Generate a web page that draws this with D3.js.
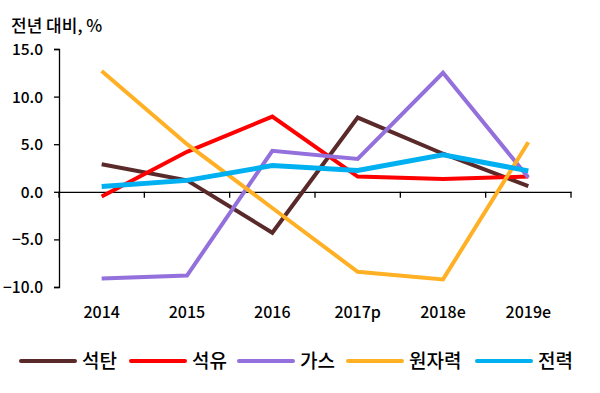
<!DOCTYPE html>
<html>
<head>
<meta charset="utf-8">
<script src="https://cdn.jsdelivr.net/npm/d3@7"></script>
<style>
  body { margin: 0; background: #fff; }
  svg { display: block; }
  .eje text { font-family: "Noto Sans CJK KR", sans-serif; font-size: 15.5px; font-weight: 500; fill: #000; }
  .eje path, .eje line { stroke: #000; stroke-width: 1.3px; }
  .kr { font-family: "Noto Sans CJK KR", sans-serif; font-weight: 500; fill: #000; }
</style>
</head>
<body>
<svg id="chart"></svg>
<script>
var anios = ["2014", "2015", "2016", "2017p", "2018e", "2019e"];
var seccion_nombres = ["석탄", "석유", "가스", "원자력", "전력"];
var carbon   = [2.9, 1.2, -4.3, 7.8, 4.0, 0.6];
var petroleo = [-0.5, 4.2, 7.9, 1.6, 1.35, 1.6];
var gas      = [-9.1, -8.8, 4.3, 3.45, 12.5, 1.5];
var nuclear  = [12.7, 5.0, -1.7, -8.4, -9.2, 5.2];
var electric = [0.55, 1.2, 2.75, 2.25, 3.9, 2.2];
var ticksY = [-10, -5, 0, 5, 10, 15];
var colores = ["#5a2a2a", "#ff0000", "#9370db", "#ffb024", "#00b0f0"];

var series = [carbon, petroleo, gas, nuclear, electric].map(function(v, i) {
    return { nombre: seccion_nombres[i], valores: v, color: colores[i], ancho: i == 4 ? 5 : 4 };
});

var config = { width: 600, height: 393, left: 59, right: 571, top: 49, bottom: 287 };

var svg = d3.select("#chart")
    .attr("width", config.width)
    .attr("height", config.height);

var x = d3.scaleBand()
    .range([config.left, config.right])
    .domain(anios);
var y = d3.scaleLinear()
    .range([config.bottom, config.top])
    .domain([-10, 15]);

// titulo
svg.append("text")
    .attr("class", "kr")
    .attr("x", 11)
    .attr("y", 32)
    .style("font-size", "17px")
    .text("전년 대비, %");

// eje Y
svg.append("g")
    .attr("class", "eje")
    .attr("transform", "translate(" + config.left + ",0)")
    .call(d3.axisLeft(y).tickValues(ticksY).tickFormat(d3.format(".1f")).tickSizeOuter(0).tickSize(5).tickPadding(11))
  .selectAll("text")
    .attr("dy", "0.36em");

// eje X en cero
var ejeX = svg.append("g")
    .attr("class", "eje")
    .attr("transform", "translate(0," + y(0) + ")")
    .call(d3.axisBottom(x).tickSize(6).tickSizeOuter(0).tickFormat(""));
ejeX.selectAll(".tick").remove();
ejeX.selectAll(".borde")
    .data(anios.concat(["fin"]))
    .enter().append("line")
    .attr("x1", function(d, i) { return config.left + i * x.step(); })
    .attr("x2", function(d, i) { return config.left + i * x.step(); })
    .attr("y1", 0)
    .attr("y2", 6)
    .attr("stroke", "#000")
    .attr("stroke-width", 1.3);

svg.selectAll(".etq")
    .data(anios)
    .enter().append("text")
    .attr("class", "kr")
    .attr("x", function(d) { return x(d) + x.bandwidth() / 2; })
    .attr("y", 318)
    .attr("text-anchor", "middle")
    .style("font-size", "16px")
    .text(function(d) { return d; });

// lineas
var linea = d3.line()
    .x(function(d, i) { return x(anios[i]) + x.bandwidth() / 2; })
    .y(function(d) { return y(d); });

svg.selectAll(".serie")
    .data(series)
    .enter().append("path")
    .attr("fill", "none")
    .attr("stroke", function(d) { return d.color; })
    .attr("stroke-width", function(d) { return d.ancho; })
    .attr("d", function(d) { return linea(d.valores); });

// leyenda
var leyX = [21, 131, 239, 348, 477];
var ley = svg.selectAll(".ley")
    .data(series)
    .enter().append("g")
    .attr("transform", function(d, i) { return "translate(" + leyX[i] + ",361)"; });
ley.append("line")
    .attr("x1", 0).attr("x2", 54)
    .attr("stroke", function(d) { return d.color; })
    .attr("stroke-width", 4)
    .attr("stroke-linecap", "round");
ley.append("text")
    .attr("class", "kr")
    .attr("x", 61)
    .attr("dy", "0.36em")
    .style("font-size", "19px")
    .text(function(d) { return d.nombre; });
</script>
</body>
</html>
